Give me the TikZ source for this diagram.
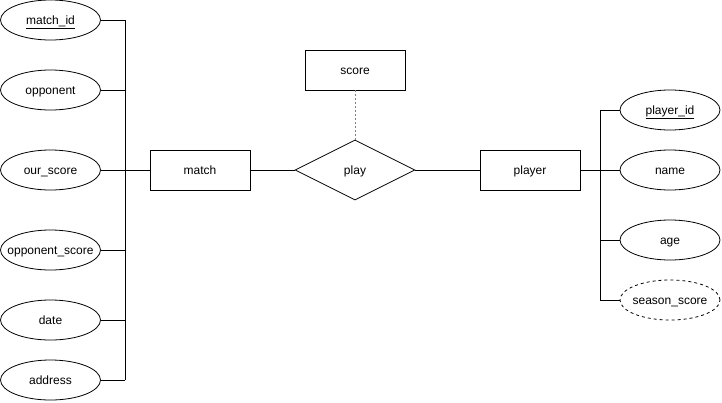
\documentclass[tikz,border=0pt]{standalone}
\usepackage{fontspec}
\setmainfont{Liberation Sans}
\usetikzlibrary{shapes.geometric}
\newcommand\attxt[1]{\makebox[0pt]{#1}}
\begin{document}
\begin{tikzpicture}[x=1pt,y=-1pt,
  every node/.style={font=\fontsize{12}{14}\selectfont,text height=10pt,text depth=1pt},
  attr/.style={draw,ellipse,minimum width=100pt,minimum height=40pt,inner sep=0pt,line width=0.8pt},
  ent/.style={draw,rectangle,minimum width=100pt,minimum height=40pt,inner sep=0pt,line width=0.8pt},
  rel/.style={draw,diamond,aspect=2,minimum width=120pt,minimum height=60pt,inner sep=0pt,line width=0.8pt},
  conn/.style={line width=0.8pt}]
\useasboundingbox (0,0) rectangle (722,402);
% left attributes
\node[attr] (mid) at (50.5,20) {\attxt{\underline{match\_id}}};
\node[attr] (opp) at (50.5,90) {\attxt{opponent}};
\node[attr] (our) at (50.5,170) {\attxt{our\_score}};
\node[attr] (ops) at (50.5,250) {\attxt{opponent\_score}};
\node[attr] (dat) at (50.5,320) {\attxt{date}};
\node[attr] (adr) at (50.5,380) {\attxt{address}};
\coordinate (lbus) at (125,0);
% entities
\node[ent] (match) at (200,170) {match};
\node[rel] (play) at (355,170) {\attxt{play}};
\node[ent] (score) at (355,70) {score};
\node[ent] (player) at (530,170) {player};
% right attributes
\node[attr] (pid) at (670,110) {\attxt{\underline{player\_id}}};
\node[attr] (nam) at (670,170) {\attxt{name}};
\node[attr] (age) at (670,240) {\attxt{age}};
\node[attr,dashed] (ssc) at (670,300) {\attxt{season\_score}};
\coordinate (rbus) at (600,0);
% left bus
\draw[conn] (mid.east -| lbus) -- (adr.east -| lbus);
\foreach \n in {mid,opp,our,ops,dat,adr}
  \draw[conn] (\n.east) -- (\n.east -| lbus);
\draw[conn] (match.west) -- (match.west -| lbus);
% relation
\draw[conn] (match.east) -- (play.west);
\draw[conn] (play.east) -- (player.west);
\draw[line width=0.6pt,dash pattern=on 2pt off 2pt,gray] (score.south) -- (play.north);
% right bus
\draw[conn] (pid.west -| rbus) -- (ssc.west -| rbus);
\foreach \n in {pid,nam,age,ssc}
  \draw[conn] (\n.west) -- (\n.west -| rbus);
\draw[conn] (player.east) -- (player.east -| rbus);
\end{tikzpicture}
\end{document}
